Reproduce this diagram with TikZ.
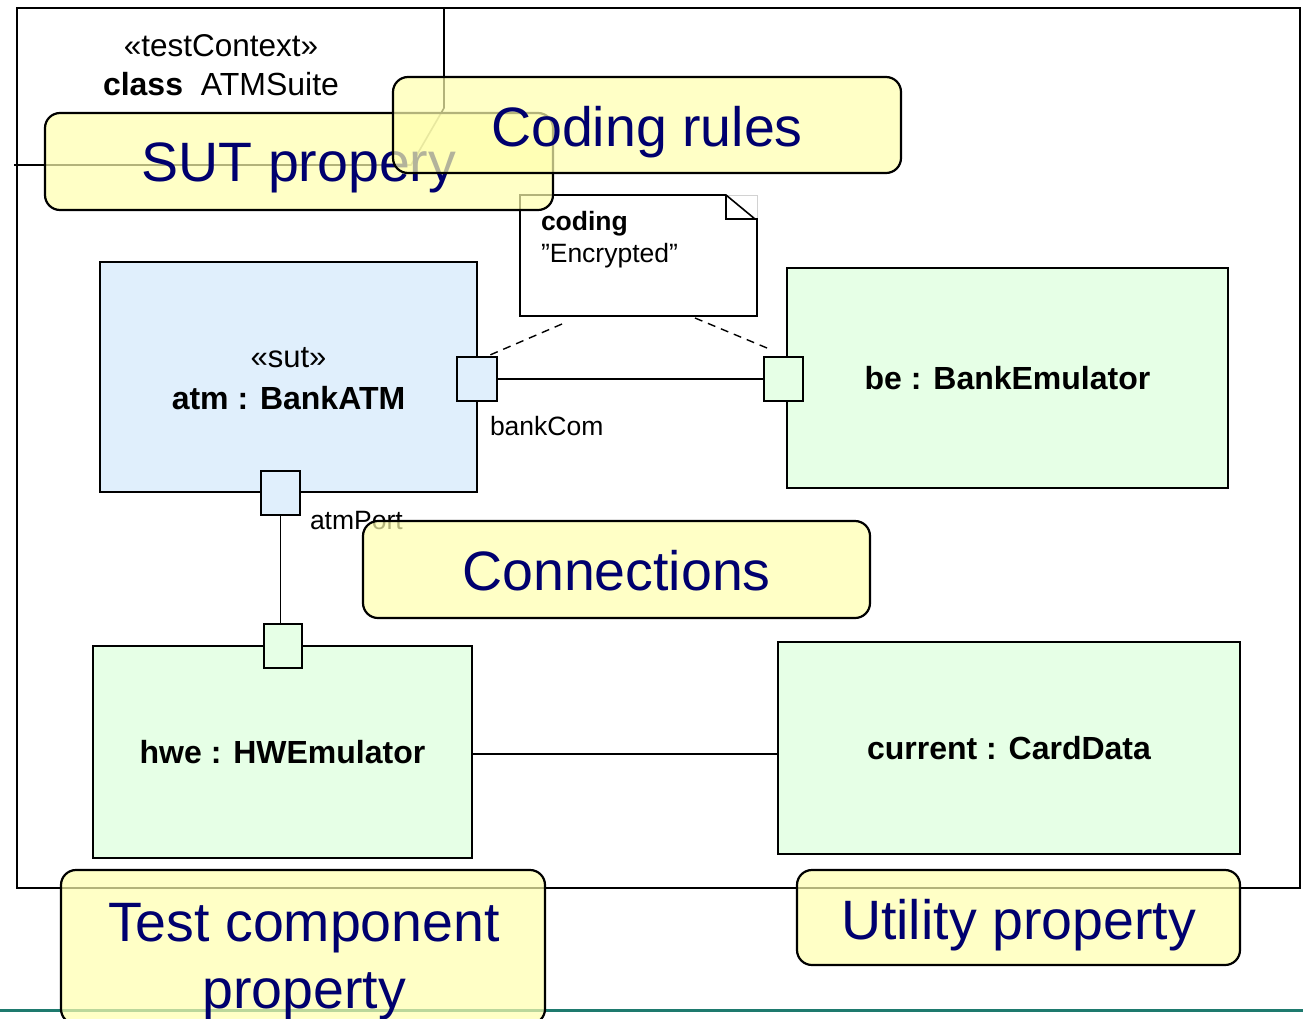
\documentclass[tikz,border=0pt]{standalone}
\usepackage{fontspec}
\setmainfont{Liberation Sans}
\usetikzlibrary{calc}
\definecolor{atmblue}{RGB}{224,239,252}
\definecolor{emugreen}{RGB}{230,255,230}
\definecolor{calloutfill}{RGB}{255,255,175}
\definecolor{callouttext}{RGB}{0,0,110}
\definecolor{rulegreen}{RGB}{30,122,110}
\begin{document}
\begin{tikzpicture}[x=1pt,y=-1pt,
  every node/.style={inner sep=0pt,outer sep=0pt},
  ctxframe/.style={draw,line width=1.6pt,minimum width=1283pt,minimum height=880pt},
  part/.style={draw,line width=1.6pt,align=center,font=\fontsize{32}{41}\selectfont\bfseries},
  portbox/.style={draw,line width=1.6pt},
  small/.style={font=\fontsize{26.5}{32}\selectfont,anchor=west},
  callout/.style={draw,line width=2.2pt,rounded corners=15pt,fill=calloutfill,
    fill opacity=0.7},
  callouttxt/.style={text=callouttext,font=\fontsize{55.5}{68}\selectfont},
  link/.style={line width=1.6pt},
  notelink/.style={line width=1.4pt,dash pattern=on 8pt off 6pt}
]
\useasboundingbox (0,0) rectangle (1303,1018);
\fill[white] (0,0) rectangle (1303,1018);

% test context frame and its heading
\node[ctxframe] (ctx) at (658.5,448) {};
\node[font=\fontsize{31.5}{36}\selectfont] (stereo) at (221,46) {«testContext»};
\node[font=\fontsize{32}{36}\selectfont] (ctxname) at (221,84) {\textbf{class}\ \ ATMSuite};

% leader line behind the callouts
\coordinate (leadA) at (14,165);
\coordinate (leadB) at (411,165);
\coordinate (leadC) at (444,108);
\coordinate (leadD) at (444,8);
\draw[link] (leadA) -- (leadB) -- (leadC) -- (leadD);

% rule at the foot of the slide
\coordinate (ruleL) at (0,1010);
\coordinate (ruleR) at (1303,1010);
\draw[rulegreen,line width=3pt] (ruleL) -- (ruleR);

% parts
\node[part,fill=atmblue,minimum width=377pt,minimum height=230pt] (atm) at (288.5,377)
  {};
\node[font=\fontsize{31}{36}\selectfont] (atmStereo) at (288.5,357.5) {«sut»};
\node[font=\fontsize{32}{36}\selectfont\bfseries] (atmName) at (288.5,398.5) {atm : BankATM};
\node[part,fill=emugreen,minimum width=441pt,minimum height=220pt] (be) at (1007.5,378)
  {be : BankEmulator};
\node[part,fill=emugreen,minimum width=379pt,minimum height=212pt] (hwe) at (282.5,752)
  {hwe : HWEmulator};
\node[part,fill=emugreen,minimum width=462pt,minimum height=212pt] (current) at (1009,748)
  {current : CardData};

% ports
\node[portbox,fill=atmblue,minimum width=40pt,minimum height=44pt] (bankport) at (477,379) {};
\node[portbox,fill=emugreen,minimum width=39pt,minimum height=44pt] (beport) at (783.5,379) {};
\node[portbox,fill=atmblue,minimum width=39pt,minimum height=44pt] (atmport) at (280.5,493) {};
\node[portbox,fill=emugreen,minimum width=38pt,minimum height=44pt] (hweport) at (283,646) {};
\node[small] (bankComLbl) at (490,426) {bankCom};
\node[small] (atmPortLbl) at (310,521) {atmPort};

% connectors
\coordinate (hcLevel) at (0,754);
\draw[link] (bankport.east) -- (beport.west);
\draw[link] (atmport.south) -- (atmport.south |- hweport.north);
\draw[link] (hwe.east |- hcLevel) -- (current.west |- hcLevel);

% coding note
\node[minimum width=237pt,minimum height=121pt] (note) at (638.5,255.5) {};
\fill[white] (note.north west) -- ([xshift=-31pt]note.north east)
  -- ([yshift=-24pt]note.north east) -- (note.south east) -- (note.south west) -- cycle;
\draw[gray!35,line width=1pt] ([xshift=-31pt]note.north east) -- (note.north east)
  -- ([yshift=-24pt]note.north east);
\draw[line width=1.6pt] (note.north west) -- ([xshift=-31pt]note.north east)
  -- ([xshift=-2pt,yshift=-24pt]note.north east) -- ([yshift=-24pt]note.north east)
  -- (note.south east) -- (note.south west) -- cycle;
\draw[line width=1.6pt] ([xshift=-31pt]note.north east) |- ([xshift=-2pt,yshift=-24pt]note.north east);
\node[small,font=\fontsize{26.5}{32}\selectfont\bfseries] (noteTitle) at (541,224) {coding};
\node[small] (noteBody) at (541,256) {”Encrypted”};
\draw[notelink] ($(note.south west)+(42,8)$) -- ($(bankport.north east)+(-7,-2)$);
\draw[notelink] ($(note.south west)+(175,2)$) -- ($(beport.north west)+(3,-9)$);

% explanatory callouts
\node[callout,minimum width=508pt,minimum height=97pt] (sutCall) at (299,161.5) {};
\node[callouttxt] (sutTxt) at (299,168) {\strut SUT propery};
\node[callout,minimum width=508pt,minimum height=96pt] (codingCall) at (647,125) {};
\node[callouttxt] (codingTxt) at (647,133) {\strut Coding rules};
\node[callout,minimum width=507pt,minimum height=97pt] (connCall) at (616.5,569.5) {};
\node[callouttxt] (connTxt) at (616.5,577) {\strut Connections};
\node[callout,minimum width=484pt,minimum height=154pt] (testCall) at (303,947) {};
\node[callouttxt] (testTxt1) at (304,928) {\strut Test component};
\node[callouttxt] (testTxt2) at (304,995) {\strut property};
\node[callout,minimum width=443pt,minimum height=95pt] (utilCall) at (1018.5,917.5) {};
\node[callouttxt] (utilTxt) at (1018.5,926) {\strut Utility property};
\end{tikzpicture}
\end{document}
